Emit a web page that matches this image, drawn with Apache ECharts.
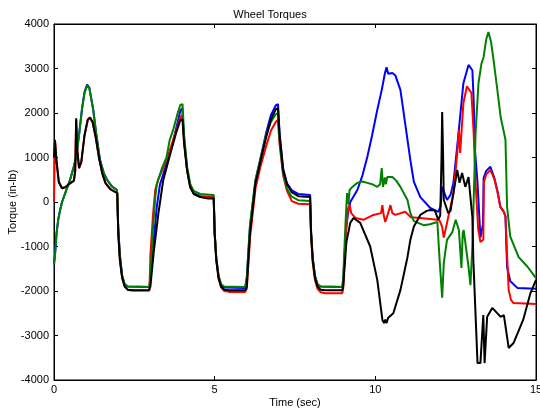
<!DOCTYPE html>
<html><head><meta charset="utf-8">
<script src="https://cdn.jsdelivr.net/npm/echarts@6/dist/echarts.min.js"></script>
<style>html,body{margin:0;padding:0;background:#fff}#c{width:540px;height:410px}</style>
</head><body><div id="c"></div>
<script>
const title = 'Wheel Torques';
const xName = 'Time (sec)';
const yName = 'Torque (in-lb)';
const xTicks = [0, 5, 10, 15];
const yTicks = [-4000, -3000, -2000, -1000, 0, 1000, 2000, 3000, 4000];

const blue = [[0,-1400],[0.03,-1200],[0.08,-700],[0.13,-400],[0.2,-150],[0.25,0],[0.35,200],[0.5,500],[0.6,750],[0.69,1010],[0.78,1520],[0.87,2090],[0.95,2470],[1.03,2640],[1.1,2570],[1.22,2080],[1.32,1500],[1.43,950],[1.55,650],[1.65,500],[1.8,350],[1.96,270],[2.0,-600],[2.05,-1200],[2.12,-1650],[2.2,-1850],[2.3,-1900],[2.97,-1910],
[3.0,-1700],[3.1,-900],[3.2,-100],[3.3,400],[3.5,850],[3.7,1350],[3.85,1800],[3.93,2050],[3.99,2110],[4.05,1400],[4.14,750],[4.24,350],[4.35,200],[4.55,130],[4.97,120],[5.0,-700],[5.05,-1260],[5.12,-1660],[5.2,-1870],[5.3,-1920],[5.95,-1930],
[6.0,-1700],[6.1,-550],[6.27,480],[6.42,960],[6.6,1550],[6.75,1950],[6.9,2170],[6.97,2200],[7.02,1550],[7.13,750],[7.25,420],[7.4,260],[7.6,180],[7.97,160],[8.0,-650],[8.05,-1250],[8.12,-1650],[8.2,-1850],[8.3,-1900],[8.97,-1910],
[9.0,-1800],[9.08,-700],[9.14,-300],[9.22,0],[9.44,270],[9.6,600],[9.75,1010],[9.9,1500],[10.06,2070],[10.2,2520],[10.3,2900],[10.35,3030],[10.4,2880],[10.45,2920],[10.53,2900],[10.62,2850],[10.78,2520],[11.0,1400],[11.09,940],[11.2,450],[11.4,110],[11.71,-135],[11.96,-220],[12.03,-100],[12.08,340],[12.23,45],[12.34,160],[12.43,430],[12.59,1550],[12.74,2670],[12.9,3080],[13.02,2960],[13.06,2290],[13.1,1170],[13.18,430],[13.27,-800],[13.35,-500],[13.37,540],[13.45,700],[13.58,790],[13.7,550],[13.8,250],[13.89,-110],[14.0,-220],[14.05,-330],[14.1,-1460],[14.2,-1780],[14.42,-1930],[15,-1950]];

const red = [[0,0],[0.03,1380],[0.08,900],[0.15,450],[0.25,310],[0.35,330],[0.5,420],[0.62,480],[0.66,700],[0.69,1860],[0.72,1200],[0.78,760],[0.85,900],[0.95,1500],[1.05,1850],[1.12,1890],[1.2,1800],[1.3,1450],[1.4,1000],[1.5,650],[1.6,430],[1.75,290],[1.9,230],[1.97,200],[2.0,-700],[2.05,-1300],[2.12,-1700],[2.2,-1900],[2.3,-1975],[2.45,-1990],[2.97,-1990],
[3.0,-1200],[3.08,-300],[3.15,270],[3.25,520],[3.4,760],[3.6,1150],[3.8,1600],[3.93,1900],[3.99,1950],[4.05,1350],[4.14,720],[4.24,330],[4.35,190],[4.55,120],[4.97,110],[5.0,-700],[5.05,-1300],[5.12,-1720],[5.2,-1920],[5.3,-2000],[5.45,-2020],[5.95,-2020],
[6.0,-1950],[6.1,-800],[6.27,300],[6.42,780],[6.6,1250],[6.75,1600],[6.9,1800],[6.97,1840],[7.02,1300],[7.13,600],[7.25,250],[7.4,20],[7.6,-40],[7.97,-50],[8.0,-750],[8.05,-1350],[8.12,-1750],[8.2,-1950],[8.3,-2030],[8.45,-2050],[8.97,-2050],
[9.0,-1950],[9.08,-700],[9.15,-150],[9.2,-60],[9.25,-250],[9.38,-360],[9.63,-400],[9.94,-290],[10.18,-250],[10.22,-70],[10.26,-300],[10.31,-450],[10.4,-250],[10.47,-70],[10.53,-250],[10.62,-290],[10.93,-220],[11.1,-340],[11.4,-360],[11.93,-400],[12.0,-420],[12.08,-560],[12.13,-800],[12.23,-470],[12.43,200],[12.55,1100],[12.6,1620],[12.64,1100],[12.68,1120],[12.74,2220],[12.85,2600],[12.9,2630],[12.99,2450],[13.06,1550],[13.12,430],[13.2,-600],[13.27,-900],[13.36,-850],[13.38,450],[13.45,620],[13.58,720],[13.7,520],[13.8,230],[13.89,-110],[14.0,-220],[14.05,-330],[14.1,-1200],[14.15,-1980],[14.22,-2200],[14.3,-2270],[15,-2290]];

const green = [[0,-1400],[0.03,-1200],[0.08,-700],[0.13,-400],[0.2,-150],[0.25,0],[0.35,200],[0.5,500],[0.6,750],[0.69,1010],[0.78,1500],[0.87,2070],[0.95,2450],[1.03,2620],[1.1,2550],[1.22,2070],[1.32,1500],[1.43,940],[1.55,650],[1.65,500],[1.8,350],[1.96,270],[2.0,-600],[2.05,-1200],[2.12,-1650],[2.2,-1850],[2.3,-1900],[2.97,-1910],
[3.0,-1700],[3.07,-700],[3.15,100],[3.2,400],[3.36,760],[3.5,1000],[3.6,1390],[3.72,1650],[3.85,2000],[3.93,2180],[4.0,2200],[4.05,1500],[4.14,800],[4.24,400],[4.35,250],[4.55,180],[4.97,160],[5.0,-700],[5.05,-1250],[5.12,-1650],[5.2,-1850],[5.3,-1900],[5.95,-1910],
[6.0,-1700],[6.1,-500],[6.27,500],[6.42,950],[6.6,1500],[6.75,1800],[6.9,1970],[6.97,2000],[7.02,1400],[7.13,650],[7.25,300],[7.4,120],[7.6,40],[7.97,20],[8.0,-700],[8.05,-1250],[8.12,-1650],[8.2,-1850],[8.3,-1900],[8.97,-1910],
[9.0,-1700],[9.07,-500],[9.12,200],[9.16,-50],[9.2,270],[9.3,350],[9.44,430],[9.6,460],[9.75,430],[9.9,400],[10.06,340],[10.15,400],[10.2,760],[10.24,340],[10.3,550],[10.33,400],[10.37,560],[10.53,560],[10.65,480],[10.78,340],[11.0,45],[11.09,-250],[11.2,-430],[11.5,-520],[11.7,-500],[11.93,-450],[12.0,-1300],[12.08,-2150],[12.13,-1370],[12.23,-850],[12.4,-670],[12.5,-400],[12.6,-630],[12.68,-1480],[12.72,-700],[12.75,-630],[12.9,-1460],[12.96,-1870],[13.02,-1000],[13.12,1550],[13.21,2670],[13.3,3100],[13.37,3260],[13.45,3650],[13.52,3820],[13.6,3600],[13.68,3190],[13.8,2500],[13.9,1910],[14.05,1400],[14.1,-110],[14.2,-780],[14.46,-1240],[14.73,-1450],[15,-1710]];

const black = [[0,1000],[0.03,1400],[0.08,900],[0.15,450],[0.25,310],[0.35,330],[0.5,420],[0.62,480],[0.66,700],[0.69,1880],[0.72,1200],[0.78,760],[0.85,900],[0.95,1500],[1.05,1850],[1.12,1900],[1.2,1800],[1.3,1450],[1.4,1000],[1.5,650],[1.6,430],[1.75,290],[1.9,230],[1.97,200],[2.0,-700],[2.05,-1300],[2.12,-1700],[2.2,-1900],[2.3,-1970],[2.45,-1985],[2.95,-1985],
[3.0,-1900],[3.1,-1150],[3.25,-250],[3.4,490],[3.55,900],[3.68,1240],[3.8,1550],[3.93,1840],[4.0,1860],[4.05,1300],[4.14,720],[4.24,330],[4.35,180],[4.55,110],[4.8,80],[4.97,80],[5.0,-700],[5.05,-1300],[5.12,-1700],[5.2,-1900],[5.3,-1970],[5.45,-1985],[5.95,-1985],
[6.0,-1900],[6.1,-700],[6.27,420],[6.42,900],[6.6,1450],[6.75,1850],[6.9,2080],[6.97,2110],[7.02,1500],[7.13,720],[7.25,400],[7.4,220],[7.6,130],[7.97,110],[8.0,-700],[8.05,-1300],[8.12,-1700],[8.2,-1900],[8.3,-1970],[8.45,-1985],[8.97,-1985],
[9.0,-1900],[9.1,-900],[9.22,-470],[9.32,-360],[9.53,-470],[9.84,-1000],[10.06,-1750],[10.22,-2650],[10.27,-2720],[10.31,-2640],[10.35,-2720],[10.4,-2600],[10.56,-2500],[10.78,-1980],[11.0,-1240],[11.09,-850],[11.2,-550],[11.4,-290],[11.6,-200],[11.71,-180],[11.85,-190],[11.96,-400],[12.02,-300],[12.06,1000],[12.08,2020],[12.11,1000],[12.13,45],[12.27,-250],[12.34,-200],[12.55,720],[12.62,430],[12.7,650],[12.8,340],[12.9,560],[13.02,-340],[13.05,-1300],[13.18,-3620],[13.27,-3620],[13.36,-2540],[13.4,-3620],[13.48,-2580],[13.64,-2380],[13.9,-2580],[14.0,-2540],[14.15,-3280],[14.3,-3170],[14.6,-2650],[14.83,-2040],[15,-1750]];

const font = 'Liberation Sans, Arial, sans-serif';
const chart = echarts.init(document.getElementById('c'), null, {renderer: 'canvas'});
const mkLine = (d, c) => ({type: 'line', data: d, showSymbol: false, symbol: 'none', animation: false,
  lineStyle: {color: c, width: 2}, itemStyle: {color: c}, clip: true});
const baseX = {type: 'value', min: xTicks[0], max: xTicks[xTicks.length - 1], interval: 5,
  axisLine: {show: true, onZero: false, lineStyle: {color: '#000', width: 1}},
  axisTick: {show: true, inside: true, length: 4, lineStyle: {color: '#000'}},
  splitLine: {show: false}};
const baseY = {type: 'value', min: yTicks[0], max: yTicks[yTicks.length - 1], interval: 1000,
  axisLine: {show: true, onZero: false, lineStyle: {color: '#000', width: 1}},
  axisTick: {show: true, inside: true, length: 4, lineStyle: {color: '#000'}},
  splitLine: {show: false}};
const plain = v => String(v);
chart.setOption({
  backgroundColor: '#fff',
  animation: false,
  title: {text: title, left: 'center', top: 4, textStyle: {fontSize: 11, fontWeight: 'normal', color: '#000', fontFamily: font}},
  grid: {left: 54, right: 4, top: 24, bottom: 30, containLabel: false, outerBoundsMode: 'none',
    show: true, borderColor: '#000', borderWidth: 1, backgroundColor: 'transparent'},
  xAxis: [
    Object.assign({}, baseX, {position: 'bottom', name: xName, nameLocation: 'middle', nameGap: 17, nameMoveOverlap: false,
      nameTextStyle: {fontSize: 11, color: '#000', fontFamily: font},
      axisLabel: {show: true, color: '#000', fontSize: 11, fontFamily: font, margin: 4, formatter: plain}}),
    Object.assign({}, baseX, {position: 'top', axisLabel: {show: false}})
  ],
  yAxis: [
    Object.assign({}, baseY, {position: 'left', name: yName, nameLocation: 'middle', nameGap: 36, nameMoveOverlap: false,
      nameTextStyle: {fontSize: 11, color: '#000', fontFamily: font},
      axisLabel: {show: true, color: '#000', fontSize: 11, fontFamily: font, margin: 5, formatter: plain}}),
    Object.assign({}, baseY, {position: 'right', axisLabel: {show: false}})
  ],
  series: [mkLine(blue, '#0000ff'), mkLine(red, '#ff0000'), mkLine(green, '#008000'), mkLine(black, '#000000')]
});
</script></body></html>
